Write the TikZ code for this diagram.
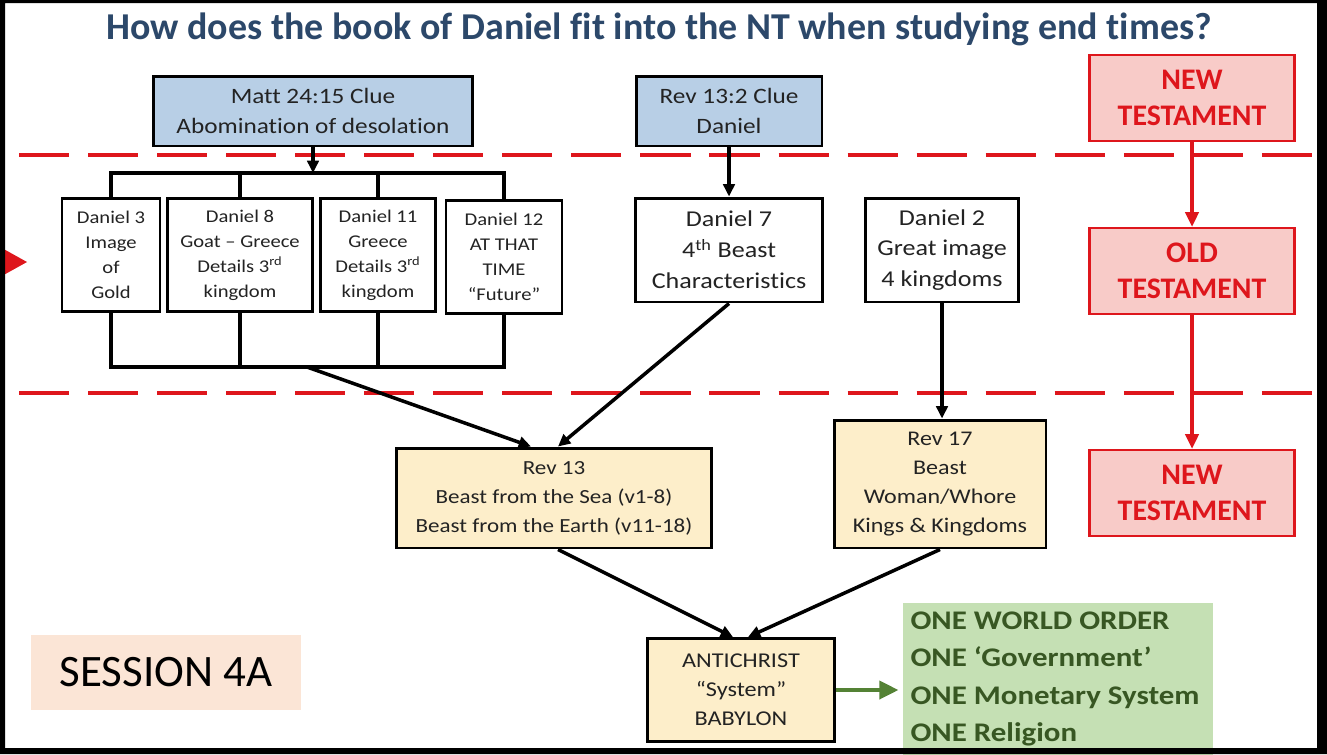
\documentclass[tikz,border=0pt]{standalone}
\usepackage{fontspec}
\setmainfont{Carlito}[Ligatures=NoCommon]
\newfontfamily\diagfont{Carlito}[FakeStretch=1.15, Ligatures=NoCommon]
\usetikzlibrary{arrows.meta,calc}
\definecolor{titleblue}{RGB}{44,72,106}
\definecolor{clueblue}{RGB}{184,207,230}
\definecolor{cream}{RGB}{253,238,202}
\definecolor{ink}{RGB}{35,35,35}
\definecolor{nured}{RGB}{222,22,28}
\definecolor{nupink}{RGB}{248,203,200}
\definecolor{greenbg}{RGB}{197,224,180}
\definecolor{greenink}{RGB}{56,87,35}
\definecolor{greenarrow}{RGB}{84,130,53}
\definecolor{peach}{RGB}{251,229,214}
\tikzset{
  box/.style={draw, line width=1.7pt, inner sep=0pt, align=center, text=ink},
  clue/.style={box, fill=clueblue, minimum height=1.4cm, font=\diagfont\fontsize{12.5}{17}\selectfont},
  dan/.style={box, line width=1.4pt, fill=white, minimum height=2.26cm, font=\diagfont\fontsize{10.2}{14.2}\selectfont},
  bigdan/.style={box, fill=white, minimum height=2.08cm, font=\diagfont\fontsize{12.9}{17.6}\selectfont},
  rev/.style={box, fill=cream, font=\diagfont\fontsize{12}{16.5}\selectfont},
  testament/.style={draw=nured, line width=1.2pt, fill=nupink, minimum width=4.1cm, minimum height=1.72cm, inner sep=0pt, align=center, text=nured, font=\bfseries\fontsize{17}{20.5}\selectfont},
  wire/.style={line width=2pt},
  link/.style={line width=2pt, -{Triangle[length=7pt,width=6.5pt]}},
  redlink/.style={nured, line width=2.3pt, -{Triangle[length=8.5pt,width=7.5pt]}},
  divider/.style={nured, line width=2.8pt, dash pattern=on 28.5pt off 10.8pt}
}
\begin{document}
\begin{tikzpicture}[x=0.02cm, y=-0.02cm]
  \useasboundingbox (0,0) rectangle (1327,754);
  \fill[white] (0,0) rectangle (1327,754);

  \node[font=\bfseries\fontsize{21.6}{25}\selectfont, text=titleblue] (title) at (659,29) {How does the book of Daniel fit into the NT when studying end times?};

  \draw[divider] (19,155) -- (1317,155);
  \draw[divider] (19,393) -- (1317,393);

  \node[clue, minimum width=6.4cm] (matt) at (313,111) {Matt 24:15 Clue\\Abomination of desolation};
  \node[clue, minimum width=3.72cm] (revclue) at (729,111) {Rev 13:2 Clue\\Daniel};

  \node[testament] (nttop) at (1192,98) {NEW\\TESTAMENT};
  \node[testament] (ot) at (1192,271) {OLD\\TESTAMENT};
  \node[testament] (ntbot) at (1192,493) {NEW\\TESTAMENT};

  \node[dan, minimum width=1.96cm] (d3) at (111,255) {Daniel 3\\Image\\of\\Gold};
  \node[dan, minimum width=2.9cm] (d8) at (240,255) {Daniel 8\\Goat – Greece\\Details 3\textsuperscript{rd}\\kingdom};
  \node[dan, minimum width=2.3cm] (d11) at (378,255) {Daniel 11\\Greece\\Details 3\textsuperscript{rd}\\kingdom};
  \node[dan, minimum width=2.32cm] (d12) at (504,257) {Daniel 12\\AT THAT\\TIME\\“Future”};

  \node[bigdan, minimum width=3.74cm] (d7) at (729,250) {Daniel 7\\4\textsuperscript{th} Beast\\Characteristics};
  \node[bigdan, minimum width=3.06cm] (d2) at (942,250) {Daniel 2\\Great image\\4 kingdoms};

  \node[rev, minimum width=6.3cm, minimum height=2cm, font=\diagfont\fontsize{11.4}{16.5}\selectfont] (rev13) at (554,498) {Rev 13\\Beast from the Sea (v1-8)\\Beast from the Earth (v11-18)};
  \node[rev, minimum width=4.24cm, minimum height=2.56cm, font=\diagfont\fontsize{11.9}{16.5}\selectfont] (rev17) at (940,484) {Rev 17\\Beast\\Woman/Whore\\Kings \& Kingdoms};
  \node[rev, minimum width=3.74cm, minimum height=2.06cm] (anti) at (741,690) {ANTICHRIST\\“System”\\BABYLON};

  \node[fill=greenbg, minimum width=6.22cm, minimum height=3.04cm, inner sep=0pt, text width=5.9cm, align=flush left, text=greenink, font=\diagfont\bfseries\fontsize{15.3}{21.3}\selectfont] (world) at (1058,679) {ONE WORLD ORDER\\ONE ‘Government’\\ONE Monetary System\\ONE Religion};
  \node[fill=peach, minimum width=5.4cm, minimum height=1.5cm, font=\fontsize{25.6}{30}\selectfont] (session) at (166,672) {SESSION 4A};

  \coordinate (brtop) at (311,173);
  \coordinate (brbot) at (307,367);

  \draw[link] (matt.south) -- (matt.south |- brtop);
  \draw[wire] (d3.north) -- (d3.north |- brtop) -- (d12.north |- brtop) -- (d12.north);
  \draw[wire] (d8.north) -- (d8.north |- brtop);
  \draw[wire] (d11.north) -- (d11.north |- brtop);
  \draw[wire] (d3.south) -- (d3.south |- brbot) -- (d12.south |- brbot) -- (d12.south);
  \draw[wire] (d8.south) -- (d8.south |- brbot);
  \draw[wire] (d11.south) -- (d11.south |- brbot);
  \draw[link] (brbot) -- ($(rev13.north)+(-23,0)$);

  \draw[link] (revclue.south) -- (d7.north);
  \draw[link] (d7.south) -- ($(rev13.north)+(4,0)$);
  \draw[link] (d2.south) -- (d2.south |- rev17.north);
  \draw[link] ($(rev13.south)+(4,0)$) -- ($(anti.north)+(-8,0)$);
  \draw[link] (rev17.south) -- ($(anti.north)+(7,0)$);
  \draw[greenarrow, line width=2.8pt, shorten >=2pt, -{Triangle[length=11pt,width=10pt]}] (anti.east) -- (anti.east -| world.west);

  \draw[redlink] (nttop.south) -- (ot.north);
  \draw[redlink] (ot.south) -- (ntbot.north);

  \fill[nured] (0,247) -- (27,262) -- (0,277) -- cycle;
  \fill[black, even odd rule] (0,0) rectangle (1327,754) (5,3) rectangle (1317,748);
\end{tikzpicture}
\end{document}
